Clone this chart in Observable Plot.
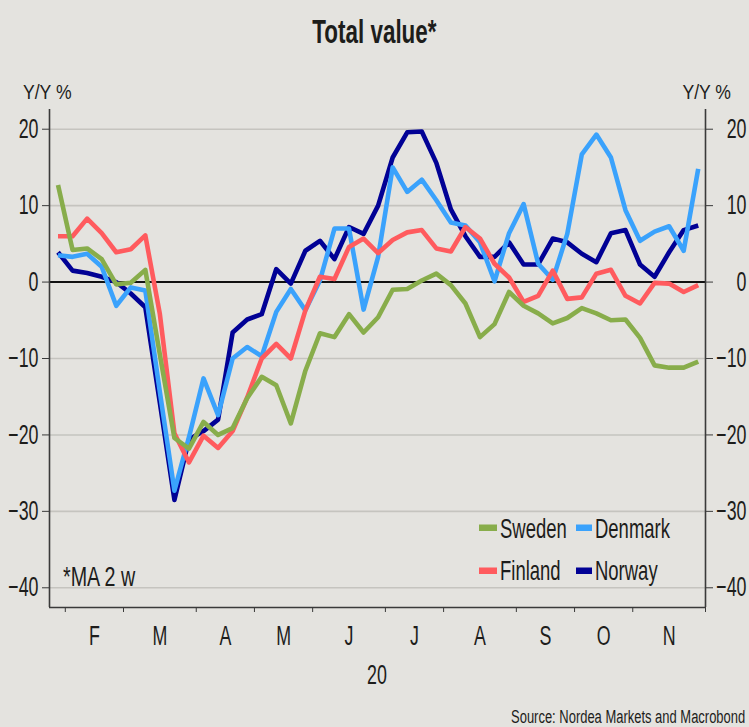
<!DOCTYPE html>
<html><head><meta charset="utf-8">
<script src="https://cdn.jsdelivr.net/npm/d3@7"></script>
<script src="https://cdn.jsdelivr.net/npm/@observablehq/plot@0.6"></script>
<style>
html,body{margin:0;padding:0;background:#e4e3df;}
#wrap{position:relative;width:749px;height:727px;background:#e4e3df;overflow:hidden;font-family:"Liberation Sans",Arial,sans-serif;color:#1d1d1b;}
#title{height:57px;padding-top:3px;line-height:57px;text-align:center;font-size:33px;font-weight:bold;}
#title span{display:inline-block;transform:scaleX(0.68);}
#chart svg{display:block;}
#source{height:27px;text-align:right;font-size:18px;line-height:22px;padding-top:6px;padding-right:4px;box-sizing:border-box;}
#source span{display:inline-block;transform:scaleX(0.72);transform-origin:right center;}
#overlay{position:absolute;left:0;top:0;pointer-events:none;}
</style></head>
<body>
<div id="wrap">
  <div id="title"><span>Total value*</span></div>
  <div id="chart"></div>
  <div id="source"><span>Source: Nordea Markets and Macrobond</span></div>
</div>
<script>
// ---- data (weekly, 2020) ----
const weeks = [1,2,3,4,5,6,7,8,9,10,11,12,13,14,15,16,17,18,19,20,21,22,23,24,25,26,27,28,29,30,31,32,33,34,35,36,37,38,39,40,41,42,43,44,45];
const sweden = [12.7,4.2,4.4,3.0,-0.3,-0.1,1.6,-9.5,-20.4,-21.8,-18.3,-20.0,-19.1,-15.2,-12.4,-13.5,-18.5,-11.6,-6.7,-7.2,-4.2,-6.6,-4.6,-1.0,-0.9,0.2,1.1,-0.4,-2.8,-7.2,-5.5,-1.3,-3.1,-4.1,-5.4,-4.7,-3.4,-4.1,-5.0,-4.9,-7.3,-10.9,-11.2,-11.2,-10.4];
const denmark = [3.5,3.3,3.7,2.0,-3.1,-0.7,-1.1,-14.4,-27.3,-20.3,-12.6,-17.4,-10.0,-8.5,-9.7,-3.9,-0.9,-3.7,0.2,7.0,7.0,-3.6,3.3,15.0,11.8,13.4,10.7,7.8,7.4,5.2,0.1,6.4,10.2,2.4,0.3,6.3,16.7,19.3,16.3,9.4,5.4,6.6,7.3,4.1,14.8];
const finland = [6.0,6.0,8.3,6.4,3.9,4.3,6.1,-4.2,-19.8,-23.6,-20.1,-21.7,-19.5,-15.1,-10.0,-8.1,-10.0,-3.7,0.7,0.4,4.6,5.7,3.8,5.5,6.5,6.8,4.4,4.0,7.2,5.7,2.4,0.6,-2.6,-1.8,1.5,-2.2,-2.0,1.1,1.6,-1.8,-2.8,-0.1,-0.2,-1.3,-0.4];
const norway = [3.9,1.5,1.2,0.7,0.0,-1.5,-3.3,-15.8,-28.5,-20.6,-19.5,-18.0,-6.6,-4.9,-4.2,1.7,-0.2,4.1,5.4,3.0,7.2,6.3,10.0,16.3,19.6,19.7,15.6,9.5,6.0,3.3,3.3,5.2,2.3,2.3,5.7,5.2,3.7,2.6,6.4,6.8,2.3,0.7,3.9,6.8,7.4];
const countries = ["Sweden","Denmark","Finland","Norway"];
const colors = ["#88ad4b","#3aa2fc","#ff5b5e","#010195"];
const yTicks = [-40,-30,-20,-10,0,10,20];
const monthBounds = [1.5,5.5,10.5,14.5,18.5,23.5,27.5,32.5,36.5,40.5,45.5];
const monthMids = [3.5,8,12.5,16.5,21,25.5,30,34.5,38.5,43];
const monthLabels = ["F","M","A","M","J","J","A","S","O","N"];
const yearLabel = "20";
const xDomain = [0.414,45.5];
const yDomain = [-42.58,22.58];

const series = {Sweden: sweden, Denmark: denmark, Finland: finland, Norway: norway};
const table = countries.flatMap(c => weeks.map((w,i) => ({week: w, value: series[c][i], country: c})));
const drawOrder = ["Norway","Denmark","Finland","Sweden"];
const ink = "#1d1d1b";

const plot = Plot.plot({
  width: 749, height: 640,
  marginTop: 49, marginBottom: 93, marginLeft: 49, marginRight: 44,
  style: {background: "transparent", fontFamily: "'Liberation Sans', Arial, sans-serif", fontSize: "27px", color: ink, overflow: "visible"},
  x: {domain: xDomain},
  y: {domain: yDomain},
  marks: [
    Plot.gridY(yTicks, {stroke: "#c5c4bf", strokeOpacity: 1, strokeWidth: 1.6}),
    Plot.ruleY([0], {stroke: "#111", strokeWidth: 2}),
    ...drawOrder.map(c => Plot.line(table.filter(d => d.country === c), {
      x: "week", y: "value", stroke: colors[countries.indexOf(c)], strokeWidth: 4.6,
      strokeLinejoin: "round", strokeLinecap: "butt"
    })),
    Plot.ruleX(xDomain, {stroke: "#3a3a3a", strokeWidth: 1.6}),
    Plot.ruleY([yDomain[0]], {stroke: "#3a3a3a", strokeWidth: 1.6}),
    Plot.axisY(yTicks, {anchor: "left", tickSize: 7, tickPadding: 4, label: null, stroke: "#3a3a3a", fill: ink}),
    Plot.axisY(yTicks, {anchor: "right", tickSize: 7, tickPadding: 34, textAnchor: "end", label: null, stroke: "#3a3a3a", fill: ink}),
    Plot.axisX(monthBounds, {tickSize: 5, tickFormat: () => "", label: null, stroke: "#3a3a3a"}),
    Plot.axisX(monthMids, {tickSize: 0, tickPadding: 18, tickFormat: (d, i) => monthLabels[i], label: null, fill: ink})
  ]
});
plot.querySelectorAll("text").forEach(t => {
  t.setAttribute("transform", (t.getAttribute("transform") || "") + " scale(0.66,1)");
});
document.getElementById("chart").appendChild(plot);

// overlay texts & legend
const ov = d3.select("#wrap").append("svg").attr("id","overlay")
  .attr("width",749).attr("height",727)
  .style("font-family","'Liberation Sans', Arial, sans-serif").attr("fill", ink);
function txt(s, x, y, fs, sx, anchor) {
  ov.append("text").attr("transform", `translate(${x},${y}) scale(${sx},1)`)
    .attr("text-anchor", anchor).attr("font-size", fs).text(s);
}
txt("Y/Y %", 23, 99, 20, 0.88, "start");
txt("Y/Y %", 731, 99, 20, 0.88, "end");
txt(yearLabel, 377, 684, 27, 0.66, "middle");
txt("*MA 2 w", 63, 586, 27, 0.73, "start");
const legendPos = [
  {sx: 479, sw: 18, tx: 500, ty: 538, ry: 524.5},
  {sx: 576, sw: 16, tx: 595, ty: 538, ry: 524.5},
  {sx: 479, sw: 18, tx: 500, ty: 580, ry: 567.5},
  {sx: 576, sw: 16, tx: 595, ty: 580, ry: 567.5}
];
countries.forEach((c, i) => {
  const p = legendPos[i];
  ov.append("rect").attr("x", p.sx).attr("y", p.ry).attr("width", p.sw).attr("height", 6.5).attr("fill", colors[i]);
  txt(c, p.tx, p.ty, 28, 0.66, "start");
});
</script>
</body></html>
